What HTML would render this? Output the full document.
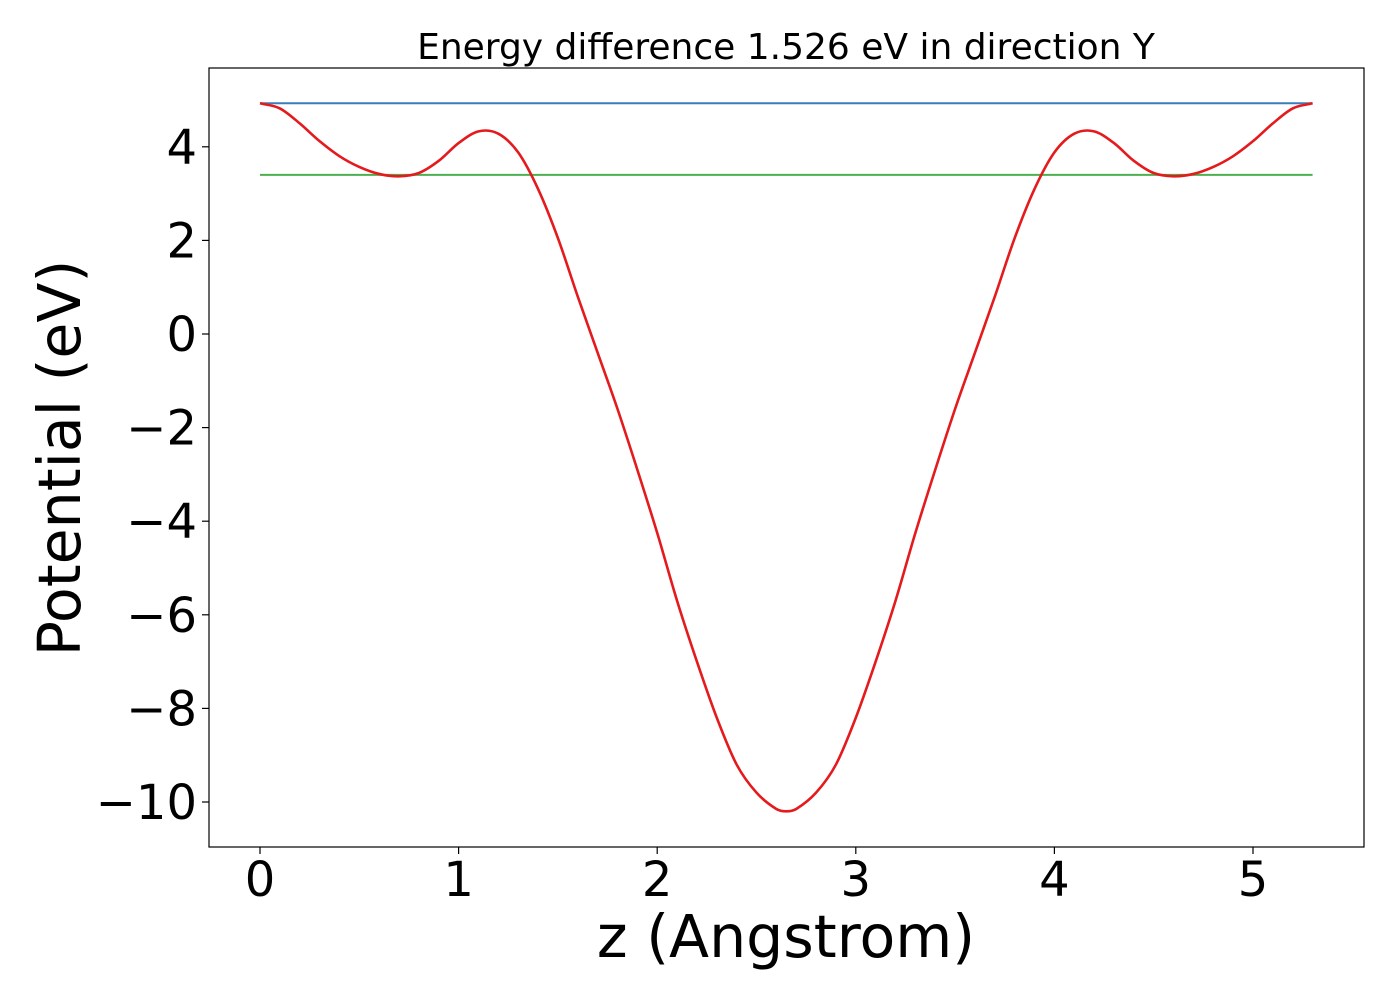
<!DOCTYPE html>
<html><head><meta charset="utf-8"><style>
html,body{margin:0;padding:0;background:#fff;}
svg text{font-family:"DejaVu Sans","Liberation Sans",sans-serif;fill:#000;}
</style></head><body>
<svg id="chart" width="1400" height="1000" xmlns="http://www.w3.org/2000/svg">
<text x="786" y="59" font-size="36" text-anchor="middle">Energy difference 1.526 eV in direction Y</text>
<g id="plot"></g>
<rect x="209" y="68" width="1155" height="779" fill="none" stroke="#000" stroke-width="1.2"/>
<g id="xticks"></g>
<g id="yticks"></g>
<text x="786" y="957" font-size="58.5" text-anchor="middle">z (Angstrom)</text>
<text transform="translate(80,458) rotate(-90)" font-size="58.5" text-anchor="middle">Potential (eV)</text>
</svg>
<script>
const zValues=[0,0.1,0.2,0.3,0.4,0.5,0.6,0.7,0.8,0.9,1.0,1.1,1.2,1.3,1.4,1.5,1.6,1.7,1.8,1.9,2.0,2.1,2.2,2.3,2.4,2.5,2.6,2.65,2.7,2.8,2.9,3.0,3.1,3.2,3.3,3.4,3.5,3.6,3.7,3.8,3.9,4.0,4.1,4.2,4.3,4.4,4.5,4.6,4.7,4.8,4.9,5.0,5.1,5.2,5.3];
const potentialValues=[4.93,4.82,4.5,4.12,3.8,3.57,3.42,3.37,3.44,3.7,4.08,4.33,4.28,3.88,3.1,2.05,0.8,-0.4,-1.6,-2.9,-4.25,-5.7,-7.0,-8.2,-9.2,-9.8,-10.15,-10.2,-10.15,-9.8,-9.2,-8.2,-7.0,-5.7,-4.25,-2.9,-1.6,-0.4,0.8,2.05,3.1,3.88,4.28,4.33,4.08,3.7,3.44,3.37,3.42,3.57,3.8,4.12,4.5,4.82,4.93];
const upperLevel=[4.93];
const lowerLevel=[3.40];
const levelRange=[0,5.3];
const xTickValues=[0,1,2,3,4,5];
const yTickValues=[4,2,0,-2,-4,-6,-8,-10];
const yTickLabels=["4","2","0","\u22122","\u22124","\u22126","\u22128","\u221210"];

const NS="http://www.w3.org/2000/svg";
function xs(v){return 260+v*198.6;}
function ys(v){return 334-v*46.8;}
function mk(tag,attrs,parent){const e=document.createElementNS(NS,tag);for(const k in attrs)e.setAttribute(k,attrs[k]);parent.appendChild(e);return e;}
const plot=document.getElementById('plot');
let l1=mk('line',{x1:xs(levelRange[0]),x2:xs(levelRange[1]),y1:ys(upperLevel[0]),y2:ys(upperLevel[0]),stroke:'#3a7dbd','stroke-width':2},plot);


let l2=mk('line',{x1:xs(levelRange[0]),x2:xs(levelRange[1]),y1:ys(lowerLevel[0]),y2:ys(lowerLevel[0]),stroke:'#4caf50','stroke-width':2},plot);


const pts=zValues.map((z,i)=>[xs(z),ys(potentialValues[i])]);
let d='M'+pts[0][0]+','+pts[0][1];
for(let i=0;i<pts.length-1;i++){const p0=pts[Math.max(0,i-1)],p1=pts[i],p2=pts[i+1],p3=pts[Math.min(pts.length-1,i+2)];
const h=p2[0]-p1[0],h0=(p2[0]-p0[0])||1,h1=(p3[0]-p1[0])||1;
const m1=(p2[1]-p0[1])/h0,m2=(p3[1]-p1[1])/h1;
d+=' C'+(p1[0]+h/3)+','+(p1[1]+m1*h/3)+' '+(p2[0]-h/3)+','+(p2[1]-m2*h/3)+' '+p2[0]+','+p2[1];}
let c=mk('path',{d:d,fill:'none',stroke:'#e41a1c','stroke-width':2.6},plot);


const xt=document.getElementById('xticks');
xTickValues.forEach(v=>{
 let t=mk('line',{x1:xs(v),x2:xs(v),y1:847,y2:854,stroke:'#000','stroke-width':1.2},xt);
 
 
 let tx=mk('text',{x:xs(v),y:896,'font-size':48,'text-anchor':'middle'},xt);tx.textContent=String(v);
 
 
});
const yt=document.getElementById('yticks');
yTickValues.forEach((v,i)=>{
 let t=mk('line',{x1:202,x2:209,y1:ys(v),y2:ys(v),stroke:'#000','stroke-width':1.2},yt);
 
 
 let tx=mk('text',{x:197,y:ys(v)+17,'font-size':48,'text-anchor':'end'},yt);tx.textContent=yTickLabels[i];
 
 
});
</script>
</body></html>
